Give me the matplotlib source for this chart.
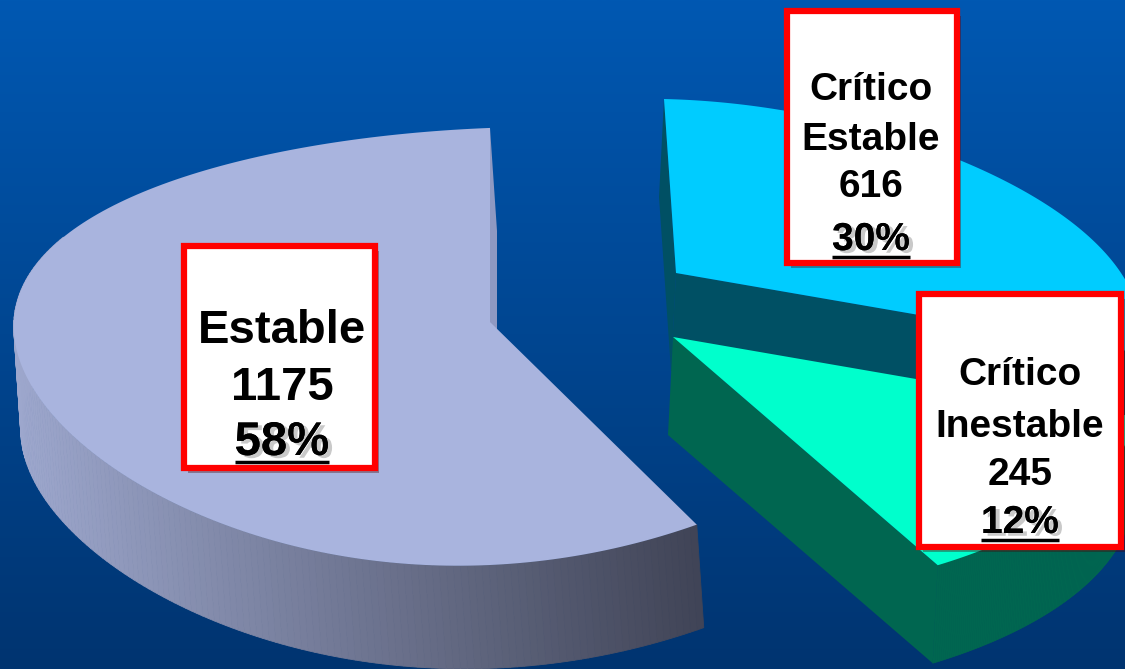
import numpy as np
import matplotlib.pyplot as plt
from matplotlib.patches import Polygon, Rectangle
from matplotlib.collections import PolyCollection
import matplotlib.patheffects as pe

# data
names = ["Estable", "Crítico\nEstable", "Crítico\nInestable"]
counts = [1175, 616, 245]
pcts = ["58%", "30%", "12%"]

W, H = 1125, 669
fig = plt.figure(figsize=(W / 100, H / 100), dpi=100)
ax = fig.add_axes([0, 0, 1, 1])
ax.set_xlim(0, W)
ax.set_ylim(H, 0)
ax.axis("off")

# background gradient
top_c = np.array([0, 88, 178]) / 255
bot_c = np.array([0, 52, 112]) / 255
t = np.linspace(0, 1, 256)[:, None]
grad = (top_c * (1 - t) + bot_c * t)[:, None, :]
ax.imshow(grad, extent=[0, W, H, 0], aspect="auto", zorder=0)

frac = np.array(counts) / sum(counts)
spans = frac * 360

# pseudo-3D projection parameters for each exploded piece
left_grp = dict(cx=490, cy=322, A=475, m=0.074, S=0, B=215.8, k=0.112, T=20, dz=(7, 103))
right_a = dict(cx=676, cy=273, A=450, m=-0.24, S=-12, B=208.8, k=0.2, T=-8, dz=(-5, 98))
right_b = dict(right_a, cx=673, cy=337)


def proj(g, th, r=1.0, z=0.0):
    th = np.radians(np.atleast_1d(th))
    u, v = r * np.cos(th), r * np.sin(th)
    f = 1 / (1 + g["k"] * v)
    x = g["cx"] + g["A"] * u * (1 + g["m"] * v) + g["S"] * v + z * g["dz"][0]
    y = g["cy"] - g["B"] * v * f - g["T"] * u + z * g["dz"][1]
    return np.column_stack([x, y])


def top_face(g, a0, a1):
    th = np.linspace(a0, a1, 200)
    return np.vstack([proj(g, 0, r=0), proj(g, th)])


def radial_face(g, a):
    return np.vstack([proj(g, a, r=0), proj(g, a), proj(g, a, z=1), proj(g, a, r=0, z=1)])


def outer_side(g, a0, a1, n=160):
    th = np.linspace(a0, a1, n)
    tp, bt = proj(g, th), proj(g, th, z=1)
    return [np.array([tp[i], tp[i + 1], bt[i + 1], bt[i]]) for i in range(n - 1)]


# slice angles (Estable counter-clockwise from 90 deg, the others clockwise)
e0, e1 = 90, 90 + spans[0]
c0, c1 = 90 - spans[1], 90
i0, i1 = c0 - spans[2], c0

# --- Estable (gray, left) ---
ax.add_patch(Polygon(radial_face(left_grp, e0), closed=True, fc="#8f99c2", ec="none", zorder=2))
quads = outer_side(left_grp, 150, e1)
light = np.array([158, 168, 206]) / 255
dark = np.array([64, 68, 86]) / 255
xs = np.array([q[:, 0].mean() for q in quads])
tt = np.clip((xs - 15) / (700 - 15), 0, 1)[:, None]
cols = light * (1 - tt) + dark * tt
ax.add_collection(PolyCollection(quads, facecolors=cols, edgecolors=cols, linewidths=0.6, zorder=2))
ax.add_patch(Polygon(top_face(left_grp, e0, e1), closed=True, fc="#a9b4de", ec="none", zorder=3))

# --- Crítico Estable (cyan) ---
ax.add_patch(Polygon(radial_face(right_a, c1), closed=True, fc="#005064", ec="none", zorder=4))
for q in outer_side(right_a, c0, 0):
    ax.add_patch(Polygon(q, closed=True, fc="#005064", ec="#005064", lw=0.5, zorder=4))
ax.add_patch(Polygon(radial_face(right_a, c0), closed=True, fc="#005064", ec="none", zorder=4))
ax.add_patch(Polygon(top_face(right_a, c0, c1), closed=True, fc="#00ccff", ec="none", zorder=5))

# --- Crítico Inestable (turquoise) ---
ax.add_patch(Polygon(radial_face(right_b, i0), closed=True, fc="#006650", ec="none", zorder=6))
for q in outer_side(right_b, i0, i1):
    ax.add_patch(Polygon(q, closed=True, fc="#006650", ec="#006650", lw=0.5, zorder=6))
ax.add_patch(Polygon(top_face(right_b, i0, i1), closed=True, fc="#00ffcc", ec="none", zorder=7))

# --- label boxes ---
boxes = [
    dict(x0=184, y0=246, x1=375, y1=468, xc=282, base=[343, 400, 455], fs=34),
    dict(x0=787, y0=11, x1=957, y1=263, xc=871, base=[100, 150, 197, 250], fs=28),
    dict(x0=919, y0=294, x1=1121, y1=547, xc=1020, base=[385, 437, 485, 533], fs=28),
]

fig.canvas.draw()
renderer = fig.canvas.get_renderer()
inv = ax.transData.inverted()
font = ["Liberation Sans", "DejaVu Sans"]

for b, nm, cnt, pc in zip(boxes, names, counts, pcts):
    ax.add_patch(Rectangle((b["x0"] + 4, b["y0"] + 5), b["x1"] - b["x0"], b["y1"] - b["y0"],
                           fc="#400000", ec="none", alpha=0.35, zorder=9))
    ax.add_patch(Rectangle((b["x0"], b["y0"]), b["x1"] - b["x0"], b["y1"] - b["y0"],
                           fc="white", ec="#ff0000", lw=4.5, zorder=10))
    lines = nm.split("\n") + [str(cnt)]
    for ln, yb in zip(lines, b["base"]):
        ax.text(b["xc"], yb, ln, ha="center", va="baseline", fontsize=b["fs"],
                fontweight="bold", family=font, zorder=11)
    pt = ax.text(b["xc"], b["base"][-1], pc, ha="center", va="baseline", fontsize=b["fs"],
                 fontweight="bold", family=font, zorder=11,
                 path_effects=[pe.withSimplePatchShadow(offset=(3, -2), shadow_rgbFace="#888888", alpha=0.45),
                               pe.Normal()])
    bb = pt.get_window_extent(renderer)
    (ux0, _), (ux1, _) = inv.transform([[bb.x0, bb.y0], [bb.x1, bb.y0]])
    ax.plot([ux0, ux1], [b["base"][-1] + 7, b["base"][-1] + 7], color="black", lw=2.5,
            solid_capstyle="butt", zorder=11)

fig.savefig("out.png", dpi=100)
